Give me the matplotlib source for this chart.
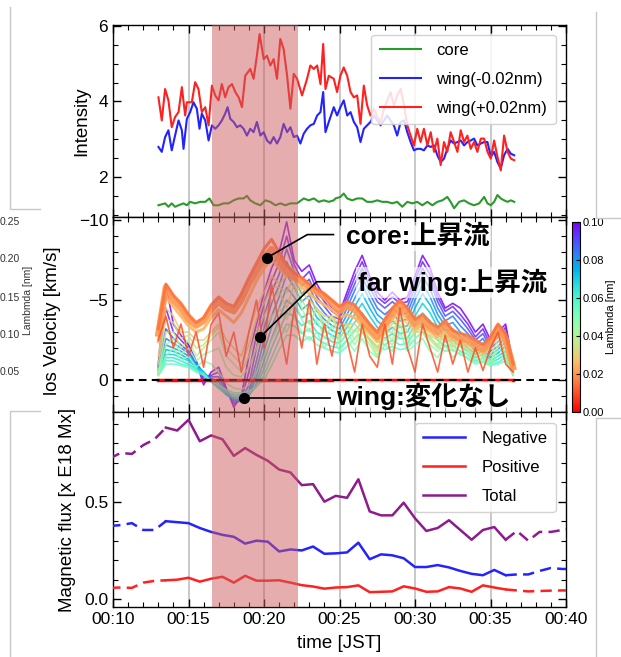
import numpy as np
import matplotlib
matplotlib.use('Agg')
import matplotlib.pyplot as plt
import matplotlib.colors as mcolors
import matplotlib.cm as cm
from matplotlib.ticker import MultipleLocator, FixedLocator, FuncFormatter
from matplotlib.lines import Line2D

plt.rcParams['font.family'] = ['Liberation Sans', 'DejaVu Sans']
plt.rcParams['axes.unicode_minus'] = True

# ---------------- data: intensity (top panel), time in minutes after 00:00 JST
t_core = [13.01, 13.45, 13.67, 13.89, 14.11, 14.34, 14.67, 14.89, 15.11, 15.44, 15.77, 16.11, 16.39,
          16.66, 16.99, 17.32, 17.65, 17.99, 18.32, 18.65, 18.87, 19.09, 19.42, 19.76, 20.09, 20.42,
          20.75, 21.08, 21.42, 21.75, 22.19, 22.63, 22.96, 23.30, 23.63, 23.96, 24.29, 24.62, 24.73,
          25.06, 25.28, 25.51, 25.84, 26.17, 26.50, 26.83, 27.17, 27.50, 27.83, 28.16, 28.49, 28.82,
          29.16, 29.49, 29.82, 30.15, 30.48, 30.82, 31.15, 31.48, 31.81, 32.14, 32.36, 32.59, 32.92,
          33.25, 33.58, 33.91, 34.25, 34.58, 34.80, 35.02, 35.24, 35.46, 35.68, 35.90, 36.13, 36.35, 36.57]
i_core = [1.26, 1.31, 1.22, 1.31, 1.22, 1.26, 1.31, 1.26, 1.35, 1.31, 1.35, 1.35, 1.44,
          1.26, 1.26, 1.31, 1.31, 1.39, 1.44, 1.44, 1.51, 1.39, 1.31, 1.26, 1.39, 1.35,
          1.26, 1.31, 1.26, 1.31, 1.31, 1.44, 1.39, 1.44, 1.35, 1.39, 1.35, 1.39, 1.44,
          1.48, 1.57, 1.44, 1.39, 1.44, 1.44, 1.35, 1.35, 1.39, 1.35, 1.35, 1.31, 1.35,
          1.22, 1.35, 1.31, 1.35, 1.26, 1.35, 1.26, 1.35, 1.39, 1.48, 1.35, 1.18, 1.35,
          1.39, 1.31, 1.26, 1.31, 1.48, 1.31, 1.26, 1.35, 1.53, 1.44, 1.39, 1.35, 1.39, 1.35]

t_wing_minus = [13.01, 13.23, 13.45, 13.67, 13.89, 14.11, 14.34, 14.56, 14.67, 14.89, 15.11, 15.33, 15.55,
                15.73, 15.88, 16.11, 16.33, 16.55, 16.77, 16.99, 17.21, 17.43, 17.59, 17.77, 17.99, 18.21,
                18.43, 18.65, 18.87, 19.09, 19.31, 19.53, 19.76, 19.98, 20.20, 20.42, 20.64, 20.86, 21.08,
                21.30, 21.53, 21.75, 21.97, 22.19, 22.41, 22.63, 22.85, 23.07, 23.30, 23.52, 23.74, 23.92,
                24.07, 24.29, 24.62, 24.84, 25.06, 25.28, 25.51, 25.73, 25.95, 26.17, 26.39, 26.61, 26.83,
                27.05, 27.28, 27.72, 28.16, 28.60, 28.82, 29.05, 29.27, 29.49, 29.71, 29.93, 30.15, 30.37,
                30.59, 30.82, 31.04, 31.26, 31.48, 31.70, 31.92, 32.14, 32.36, 32.59, 32.81, 33.03, 33.25,
                33.47, 33.69, 33.91, 34.13, 34.36, 34.58, 34.80, 35.02, 35.24, 35.46, 35.68, 35.90, 36.13,
                36.35, 36.57]
i_wing_minus = [2.80, 2.67, 3.06, 3.24, 2.71, 3.10, 3.50, 3.24, 2.75, 3.54, 3.72, 3.98, 3.81,
                3.28, 3.68, 3.50, 2.97, 3.37, 3.28, 3.37, 3.50, 3.68, 3.85, 3.54, 3.46, 3.32,
                3.37, 3.28, 3.10, 3.28, 3.19, 3.46, 3.10, 3.19, 2.97, 2.89, 3.06, 2.89, 3.06,
                3.41, 3.19, 3.32, 3.06, 3.10, 2.89, 3.15, 3.28, 3.37, 3.41, 3.63, 3.72, 4.25,
                3.19, 3.46, 3.85, 3.63, 3.85, 4.03, 3.63, 3.72, 3.46, 3.32, 2.93, 3.28, 3.37,
                3.46, 3.63, 3.37, 3.63, 3.37, 3.10, 3.46, 3.50, 3.19, 2.93, 2.71, 2.75, 2.75,
                2.71, 2.84, 2.80, 2.84, 2.58, 2.40, 2.49, 2.75, 2.97, 2.89, 2.93, 2.97, 2.84,
                2.93, 2.97, 3.02, 2.84, 2.89, 2.93, 2.93, 2.54, 2.67, 2.40, 2.23, 2.58, 2.75,
                2.62, 2.58]

t_wing_plus = [13.01, 13.23, 13.45, 13.67, 13.89, 14.11, 14.34, 14.56, 14.78, 14.89, 15.22, 15.44, 15.66,
               15.88, 16.11, 16.33, 16.55, 16.77, 16.99, 17.21, 17.43, 17.65, 17.88, 18.10, 18.32, 18.54,
               18.76, 19.09, 19.31, 19.53, 19.71, 19.98, 20.20, 20.42, 20.64, 20.86, 21.08, 21.30, 21.53,
               21.75, 21.97, 22.19, 22.52, 22.85, 23.07, 23.30, 23.52, 23.74, 23.92, 24.07, 24.29, 24.62,
               24.84, 25.06, 25.28, 25.51, 25.73, 25.95, 26.17, 26.39, 26.61, 26.83, 27.05, 27.28, 27.50,
               27.72, 27.94, 28.38, 28.60, 28.82, 29.05, 29.27, 29.49, 29.71, 29.93, 30.15, 30.37, 30.59,
               30.82, 31.04, 31.26, 31.48, 31.70, 31.92, 32.14, 32.36, 32.59, 32.81, 33.03, 33.25, 33.47,
               33.69, 33.91, 34.13, 34.36, 34.58, 34.80, 35.02, 35.24, 35.46, 35.68, 35.90, 36.13, 36.35,
               36.57]
i_wing_plus = [4.11, 3.50, 4.33, 4.03, 3.32, 3.59, 3.72, 4.38, 3.63, 3.98, 3.98, 4.51, 4.33,
               3.72, 3.85, 3.37, 4.42, 4.16, 4.03, 4.46, 4.11, 4.38, 4.46, 4.25, 4.11, 3.85,
               4.68, 4.86, 4.60, 5.21, 5.78, 5.12, 5.21, 4.95, 5.12, 4.60, 5.65, 5.39, 4.68,
               3.81, 4.73, 4.60, 4.16, 4.60, 4.95, 4.86, 4.95, 4.46, 5.52, 4.33, 4.68, 4.60,
               4.25, 4.68, 4.90, 4.68, 4.25, 4.11, 4.16, 3.41, 4.42, 3.90, 3.63, 3.80, 3.60,
               3.46, 3.80, 4.25, 3.90, 4.16, 4.33, 3.90, 3.37, 3.10, 2.84, 3.28, 2.93, 3.28,
               2.84, 3.19, 2.67, 3.02, 2.32, 2.93, 2.67, 3.19, 2.93, 2.67, 3.24, 2.93, 3.10,
               2.75, 2.93, 2.67, 3.02, 3.02, 2.67, 2.49, 2.97, 2.54, 2.18, 3.10, 2.67, 2.49,
               2.45]

# ---------------- data: line-of-sight velocity (middle panel), one series per Lambda [nm]
# samples every 30 s from 00:13:00 to 00:36:30 (each row below = 4 minutes)
t_vel = np.arange(13.0, 36.51, 0.5)
v_0100 = [-1.0, -6.0, -3.5, -2.8, -2.2, -1.2, 0.3, -0.5,
          -0.8, 0.5, 1.7, 1.0, -1.5, -3.5, -5.5, -7.0,
          -8.0, -9.9, -7.5, -6.8, -7.2, -6.0, -5.2, -4.5,
          -4.2, -5.5, -6.8, -7.8, -6.5, -5.5, -5.0, -5.5,
          -5.0, -5.2, -6.5, -7.8, -7.0, -5.5, -4.5, -4.8,
          -4.5, -3.8, -3.0, -3.5, -2.5, -3.0, -3.5, -1.0]
v_0095 = [-0.9, -4.5, -3.0, -2.5, -2.0, -1.2, 0.0, -0.3,
          -0.5, 0.6, 1.5, 1.2, -0.5, -2.8, -4.8, -6.2,
          -7.3, -9.0, -7.2, -6.3, -6.8, -5.6, -4.9, -4.3,
          -4.0, -5.2, -6.4, -7.4, -6.2, -5.2, -4.8, -5.2,
          -4.8, -4.9, -6.2, -7.4, -6.6, -5.2, -4.3, -4.6,
          -4.1, -3.5, -2.7, -3.2, -2.2, -2.7, -3.3, -0.9]
v_0090 = [-0.8, -3.2, -2.6, -2.2, -1.8, -1.1, -0.2, -0.2,
          -0.2, 0.7, 1.4, 1.3, 0.3, -2.0, -4.0, -5.5,
          -6.6, -8.2, -6.8, -5.9, -6.3, -5.2, -4.6, -4.0,
          -3.8, -4.9, -6.0, -7.0, -5.8, -4.9, -4.5, -4.9,
          -4.5, -4.6, -5.8, -7.0, -6.2, -4.9, -4.0, -4.3,
          -3.8, -3.2, -2.5, -2.9, -2.0, -2.4, -3.0, -0.8]
v_0085 = [-0.7, -2.6, -2.3, -2.0, -1.7, -1.1, -0.4, -0.1,
          0.1, 0.8, 1.3, 1.3, 0.7, -1.2, -3.2, -4.8,
          -5.9, -7.4, -6.3, -5.4, -5.8, -4.8, -4.2, -3.7,
          -3.5, -4.5, -5.6, -6.5, -5.4, -4.5, -4.1, -4.5,
          -4.1, -4.2, -5.4, -6.5, -5.7, -4.5, -3.7, -4.0,
          -3.4, -2.9, -2.2, -2.6, -1.8, -2.1, -2.7, -0.7]
v_0080 = [-0.6, -2.2, -2.0, -1.8, -1.5, -1.0, -0.5, 0.0,
          0.3, 0.9, 1.2, 1.3, 0.9, -0.6, -2.5, -4.0,
          -5.2, -6.6, -5.8, -4.9, -5.3, -4.3, -3.8, -3.4,
          -3.2, -4.1, -5.1, -6.0, -5.0, -4.1, -3.7, -4.1,
          -3.7, -3.8, -5.0, -6.0, -5.2, -4.1, -3.4, -3.6,
          -3.0, -2.6, -2.0, -2.3, -1.6, -1.9, -2.4, -0.6]
v_0075 = [-0.5, -1.9, -1.8, -1.6, -1.3, -0.9, -0.5, 0.1,
          0.4, 0.9, 1.2, 1.2, 1.0, -0.2, -1.8, -3.3,
          -4.5, -5.8, -5.2, -4.4, -4.8, -3.9, -3.5, -3.1,
          -2.9, -3.7, -4.6, -5.4, -4.5, -3.7, -3.3, -3.7,
          -3.3, -3.4, -4.5, -5.4, -4.7, -3.7, -3.1, -3.2,
          -2.7, -2.3, -1.8, -2.0, -1.4, -1.7, -2.1, -0.5]
v_0070 = [-0.4, -1.6, -1.6, -1.4, -1.2, -0.8, -0.5, 0.1,
          0.5, 0.9, 1.1, 1.1, 1.0, 0.2, -1.2, -2.6,
          -3.8, -5.0, -4.6, -3.9, -4.2, -3.5, -3.1, -2.8,
          -2.6, -3.3, -4.1, -4.8, -4.0, -3.3, -2.9, -3.3,
          -2.9, -3.0, -4.0, -4.8, -4.2, -3.3, -2.7, -2.8,
          -2.4, -2.0, -1.6, -1.8, -1.2, -1.5, -1.8, -0.4]
v_0065 = [-0.4, -1.4, -1.4, -1.2, -1.0, -0.7, -0.4, 0.1,
          0.5, 0.8, 1.0, 1.0, 0.9, 0.4, -0.7, -2.0,
          -3.1, -4.2, -4.0, -3.4, -3.7, -3.0, -2.7, -2.4,
          -2.3, -2.9, -3.6, -4.2, -3.5, -2.9, -2.6, -2.9,
          -2.6, -2.6, -3.5, -4.2, -3.7, -2.9, -2.4, -2.5,
          -2.1, -1.8, -1.4, -1.6, -1.1, -1.3, -1.6, -0.4]
v_0060 = [-0.3, -1.2, -1.2, -1.0, -0.9, -0.6, -0.4, 0.1,
          0.4, 0.7, 0.9, 0.9, 0.8, 0.4, -0.3, -1.4,
          -2.5, -3.5, -3.4, -2.9, -3.2, -2.6, -2.3, -2.1,
          -2.0, -2.5, -3.1, -3.6, -3.0, -2.5, -2.2, -2.5,
          -2.2, -2.3, -3.0, -3.6, -3.2, -2.5, -2.1, -2.2,
          -1.8, -1.6, -1.2, -1.4, -1.0, -1.1, -1.4, -0.3]
v_0055 = [-0.3, -1.0, -1.0, -0.9, -0.8, -0.5, -0.3, 0.1,
          0.3, 0.6, 0.8, 0.8, 0.7, 0.4, 0.0, -0.9,
          -1.9, -2.8, -2.8, -2.4, -2.7, -2.2, -2.0, -1.8,
          -1.7, -2.1, -2.6, -3.0, -2.6, -2.1, -1.9, -2.1,
          -1.9, -2.0, -2.6, -3.0, -2.7, -2.1, -1.8, -1.9,
          -1.6, -1.4, -1.1, -1.2, -0.9, -1.0, -1.2, -0.3]
v_0050 = [-0.3, -1.5, -2.0, -1.2, -1.5, -0.8, -1.2, -1.0,
          -0.5, 0.2, 0.5, 0.6, 0.3, -0.5, -1.5, -2.5,
          -3.5, -3.0, -4.0, -3.0, -2.5, -3.0, -2.0, -2.8,
          -1.8, -2.5, -1.8, -2.6, -1.8, -1.4, -2.2, -1.8,
          -3.0, -1.8, -2.2, -2.6, -1.8, -1.4, -2.2, -1.4,
          -1.8, -1.3, -1.0, -1.1, -0.9, -1.6, -1.3, -0.3]
v_0045 = [-0.4, -2.2, -2.6, -1.6, -2.0, -1.2, -1.6, -1.8,
          -2.0, -0.8, -0.3, -0.2, -0.8, -2.0, -3.0, -4.0,
          -4.5, -3.8, -5.0, -3.8, -3.0, -3.8, -2.6, -3.4,
          -2.2, -3.0, -2.2, -3.0, -2.2, -1.5, -2.6, -2.2,
          -3.5, -2.2, -2.6, -3.0, -2.2, -1.8, -2.6, -1.8,
          -2.2, -1.6, -1.3, -1.3, -1.1, -1.9, -1.6, -0.4]
v_0040 = [-0.5, -3.0, -3.0, -2.0, -2.5, -1.5, -2.0, -2.5,
          -3.0, -1.5, -1.0, -0.5, -1.5, -3.0, -4.0, -5.0,
          -5.5, -4.5, -6.0, -4.5, -3.5, -4.5, -3.0, -4.0,
          -2.5, -3.5, -2.5, -3.5, -2.5, -1.5, -3.0, -2.5,
          -4.0, -2.5, -3.0, -3.5, -2.5, -2.0, -3.0, -2.0,
          -2.5, -1.8, -1.5, -1.5, -1.2, -2.2, -1.8, -0.4]
v_0035 = [-1.0, -3.8, -3.6, -2.6, -2.8, -2.0, -2.2, -2.8,
          -3.3, -2.0, -1.5, -1.0, -2.2, -3.8, -4.8, -5.8,
          -5.8, -5.5, -6.5, -5.0, -4.2, -4.5, -3.5, -4.0,
          -3.0, -3.5, -3.0, -3.2, -2.5, -1.8, -3.0, -3.0,
          -4.0, -3.0, -3.0, -3.2, -2.6, -2.2, -2.9, -2.1,
          -2.3, -1.9, -1.6, -1.5, -1.6, -2.5, -2.0, -0.5]
v_0030 = [-1.5, -4.5, -4.0, -3.0, -3.0, -2.5, -2.5, -3.0,
          -3.5, -2.5, -2.0, -1.5, -3.0, -4.5, -5.5, -6.5,
          -6.0, -6.5, -7.0, -5.5, -5.0, -4.5, -4.0, -4.0,
          -3.5, -3.5, -3.5, -3.0, -2.5, -2.0, -3.0, -3.5,
          -4.0, -3.5, -3.0, -3.0, -2.8, -2.5, -2.8, -2.3,
          -2.2, -2.0, -1.8, -1.5, -2.0, -2.8, -2.2, -0.6]
v_0025 = [-2.4, -5.2, -4.6, -4.0, -3.4, -3.0, -3.2, -3.9,
          -4.4, -4.0, -3.6, -4.2, -5.2, -6.2, -7.0, -7.6,
          -7.0, -6.5, -6.6, -5.8, -5.4, -5.0, -4.7, -4.4,
          -3.9, -4.1, -3.9, -3.4, -2.9, -2.4, -3.2, -3.8,
          -4.3, -3.8, -3.2, -3.4, -3.0, -2.7, -3.0, -2.5,
          -2.4, -2.2, -2.0, -1.7, -2.2, -3.0, -2.4, -0.7]
v_0020 = [-2.9, -5.8, -5.0, -4.5, -3.8, -3.4, -3.7, -4.4,
          -4.9, -4.5, -4.3, -5.0, -6.0, -6.8, -7.6, -8.2,
          -7.5, -6.8, -6.4, -6.2, -5.8, -5.5, -5.2, -4.8,
          -4.3, -4.6, -4.4, -3.8, -3.2, -2.7, -3.5, -4.2,
          -4.7, -4.2, -3.5, -3.8, -3.3, -3.0, -3.4, -2.8,
          -2.6, -2.5, -2.2, -1.9, -2.4, -3.3, -2.6, -0.8]
v_0015 = [-3.2, -6.0, -5.3, -4.8, -4.1, -3.6, -3.9, -4.7,
          -5.2, -4.8, -4.6, -5.4, -6.4, -7.3, -8.2, -8.8,
          -8.0, -7.2, -6.7, -6.4, -6.0, -5.7, -5.4, -5.0,
          -4.6, -4.9, -4.7, -4.1, -3.5, -3.0, -3.8, -4.5,
          -5.0, -4.5, -3.8, -4.1, -3.6, -3.3, -3.7, -3.1,
          -2.9, -2.8, -2.5, -2.2, -2.7, -3.5, -2.9, -1.0]
v_0010 = [-2.5, -4.0, -2.0, -3.5, -1.5, -3.0, -0.8, -3.5,
          -4.2, -1.5, -3.0, -0.5, -3.0, -5.0, -2.0, -6.0,
          -3.5, -1.0, -4.5, -2.0, -5.0, -1.0, -3.5, -1.5,
          -4.0, -2.5, -0.5, -3.5, -1.5, -0.8, -3.5, -1.0,
          -4.5, -2.0, -0.5, -3.5, -2.0, -0.5, -2.8, -1.0,
          -2.5, -0.5, -2.0, -0.6, -2.0, -3.0, -1.0, -0.5]
v_0000 = [0.0] * 48

lambdas = [0.100, 0.095, 0.090, 0.085, 0.080, 0.075, 0.070, 0.065, 0.060, 0.055,
           0.050, 0.045, 0.040, 0.035, 0.030, 0.025, 0.020, 0.015, 0.010]
vel_series = [v_0100, v_0095, v_0090, v_0085, v_0080, v_0075, v_0070, v_0065, v_0060, v_0055,
              v_0050, v_0045, v_0040, v_0035, v_0030, v_0025, v_0020, v_0015, v_0010]

# ---------------- data: magnetic flux (bottom panel)
t_flux = np.arange(9.75, 40.51, 0.75)
flux_negative = [0.375, 0.38, 0.39, 0.355, 0.355, 0.40, 0.395, 0.39, 0.365, 0.345, 0.33, 0.32, 0.285, 0.30,
                 0.295, 0.245, 0.255, 0.25, 0.27, 0.233, 0.235, 0.24, 0.29, 0.205, 0.23, 0.225, 0.21, 0.165,
                 0.165, 0.175, 0.163, 0.145, 0.13, 0.123, 0.15, 0.123, 0.127, 0.127, 0.145, 0.16, 0.155, 0.155]
flux_positive = [0.058, 0.06, 0.058, 0.085, 0.094, 0.097, 0.10, 0.11, 0.09, 0.105, 0.115, 0.085, 0.12, 0.095,
                 0.095, 0.097, 0.085, 0.072, 0.065, 0.054, 0.06, 0.062, 0.071, 0.036, 0.038, 0.04, 0.066, 0.055,
                 0.038, 0.04, 0.062, 0.055, 0.038, 0.071, 0.06, 0.05, 0.045, 0.04, 0.042, 0.044, 0.045, 0.045]
flux_total = [0.72, 0.75, 0.745, 0.79, 0.82, 0.88, 0.865, 0.92, 0.81, 0.84, 0.82, 0.735, 0.775, 0.74,
              0.71, 0.665, 0.65, 0.585, 0.59, 0.50, 0.53, 0.52, 0.615, 0.45, 0.43, 0.43, 0.495, 0.415,
              0.35, 0.365, 0.405, 0.355, 0.305, 0.355, 0.37, 0.305, 0.35, 0.30, 0.345, 0.345, 0.355, 0.365]
obs_start, obs_end = 13.5, 36.0
flare_start, flare_end = 16.55, 22.26
x_ticks = [10, 15, 20, 25, 30, 35, 40]

# ---------------- figure
W, H = 621, 657
fig = plt.figure(figsize=(W / 100, H / 100), dpi=100)


def px_rect(x0, y0, x1, y1):
    return [x0 / W, 1 - y1 / H, (x1 - x0) / W, (y1 - y0) / H]


ax1 = fig.add_axes(px_rect(113, 25, 566, 217))
ax2 = fig.add_axes(px_rect(113, 217, 566, 412))
ax3 = fig.add_axes(px_rect(113, 412, 566, 607))
cax = fig.add_axes(px_rect(572, 222, 580, 412))

for ax in (ax1, ax2, ax3):
    ax.set_xlim(10, 40)
    for t in x_ticks[1:-1]:
        ax.axvline(t, color='#c4c4c4', lw=1.3, zorder=0.5)
    ax.axvspan(flare_start, flare_end, facecolor='indianred', alpha=0.5, lw=0, zorder=5)
    ax.xaxis.set_major_locator(FixedLocator(x_ticks))
    ax.xaxis.set_minor_locator(MultipleLocator(1))
    ax.tick_params(which='both', direction='in', top=True, right=True, labelsize=12.5)
    ax.tick_params(which='major', length=6, width=1)
    ax.tick_params(which='minor', length=3.5, width=0.8)
    for s in ax.spines.values():
        s.set_linewidth(1.0)

leg_kw = dict(loc='upper right', borderaxespad=0, fontsize=12, handlelength=2.5,
              labelspacing=0.82, borderpad=0.5, fancybox=True, framealpha=0.85, edgecolor='#cccccc')

# top panel
ax1.plot(t_core, i_core, color='#2a9a2a', lw=1.5, label='core', zorder=3)
ax1.plot(t_wing_minus, i_wing_minus, color='#2323ff', lw=1.5, label='wing(-0.02nm)', zorder=3)
ax1.plot(t_wing_plus, i_wing_plus, color='#ff2020', lw=1.5, label='wing(+0.02nm)', zorder=3)
ax1.set_ylim(0.95, 6.02)
ax1.yaxis.set_major_locator(FixedLocator([2, 4, 6]))
ax1.yaxis.set_minor_locator(MultipleLocator(0.5))
ax1.set_xticklabels([])
ax1.set_ylabel('Intensity', fontsize=13.5)
ax1.yaxis.set_label_coords(-0.05, 0.5)
leg1 = ax1.legend(bbox_to_anchor=(0.977, 0.948), handletextpad=0.9, **leg_kw)
leg1.set_zorder(20)

# middle panel
cmap = plt.get_cmap('rainbow_r')
norm = mcolors.Normalize(0.0, 0.10)
for lam, v in zip(lambdas, vel_series):
    if abs(lam - 0.02) < 1e-9:
        lw, a = 4.5, 0.9
    elif abs(lam - 0.015) < 1e-9 or abs(lam - 0.025) < 1e-9:
        lw, a = 2.2, 0.9
    else:
        lw, a = 1.2, 0.85
    ax2.plot(t_vel, v, color=cmap(norm(lam)), lw=lw, alpha=a, zorder=2)
ax2.plot(t_vel, v_0000, color=cmap(norm(0.0)), lw=2.5, zorder=3)
ax2.axhline(0, color='k', lw=1.5, ls=(0, (3.7, 2.5)), zorder=4)
ax2.set_ylim(2.0, -10.2)
ax2.yaxis.set_major_locator(FixedLocator([-10, -5, 0]))
ax2.yaxis.set_minor_locator(MultipleLocator(1))
ax2.set_xticklabels([])
ax2.set_ylabel('los Velocity [km/s]', fontsize=13.5)
ax2.yaxis.set_label_coords(-0.115, 0.47)

ann_font = dict(family=['Liberation Sans', 'Noto Sans CJK JP'], fontsize=19, fontweight='bold',
                va='center', ha='left', zorder=12)
ann_box = dict(facecolor='white', alpha=0.65, edgecolor='none', pad=1.5)
annotations = [
    ((20.2, -7.65), [(22.87, -9.1), (24.6, -9.1)], (25.4, -9.0), 'core:上昇流'),
    ((19.75, -2.7), [(23.5, -6.15), (25.26, -6.15)], (26.2, -6.1), 'far wing:上昇流'),
    ((18.65, 1.1), [(24.4, 1.1)], (24.75, 1.05), 'wing:変化なし'),
]
for (px_, py_), path, (tx, ty), label in annotations:
    xs = [px_] + [p[0] for p in path]
    ys = [py_] + [p[1] for p in path]
    ax2.plot(xs, ys, color='k', lw=1.2, zorder=11)
    ax2.plot([px_], [py_], 'o', color='k', ms=7, zorder=11)
    ax2.text(tx, ty, label, bbox=ann_box, **ann_font)

sm = cm.ScalarMappable(norm=norm, cmap=cmap)
cb = fig.colorbar(sm, cax=cax, ticks=[0.0, 0.02, 0.04, 0.06, 0.08, 0.10])
cb.ax.set_yticklabels(['0.00', '0.02', '0.04', '0.06', '0.08', '0.10'])
cb.ax.tick_params(labelsize=8, length=3, direction='in', pad=2)
cb.outline.set_linewidth(0.8)
cb.set_label('Lambmda [nm]', fontsize=8, labelpad=1)

# bottom panel
solid = (t_flux >= obs_start - 0.01) & (t_flux <= obs_end + 0.01)
pre = t_flux <= obs_start + 0.01
post = t_flux >= obs_end - 0.01
dash = (0, (4.5, 2.5))
for vals, col, lab in ((flux_negative, '#2323ff', 'Negative'),
                       (flux_positive, '#ff2020', 'Positive'),
                       (flux_total, '#8e1b8e', 'Total')):
    vals = np.asarray(vals)
    ax3.plot(t_flux[solid], vals[solid], color=col, lw=1.8, label=lab, zorder=3)
    ax3.plot(t_flux[pre], vals[pre], color=col, lw=1.8, ls=dash, zorder=3)
    ax3.plot(t_flux[post], vals[post], color=col, lw=1.8, ls=dash, zorder=3)
ax3.set_ylim(-0.04, 0.96)
ax3.yaxis.set_major_locator(FixedLocator([0.0, 0.5]))
ax3.yaxis.set_minor_locator(MultipleLocator(0.1))
ax3.yaxis.set_major_formatter(FuncFormatter(lambda v, _: f'{v:.1f}'))
ax3.xaxis.set_major_formatter(FuncFormatter(lambda v, _: f'00:{int(round(v)):02d}'))
ax3.set_ylabel('Magnetic flux [x E18 Mx]', fontsize=13.5)
ax3.yaxis.set_label_coords(-0.082, 0.5)
ax3.set_xlabel('time [JST]', fontsize=13.5, labelpad=6)
leg3 = ax3.legend(bbox_to_anchor=(0.977, 0.944), handletextpad=1.0, **leg_kw)
leg3.set_zorder(20)

# neighbouring panel remnants (cropped figure edges)
frame_col = '#c8c8c8'
for xs, ys in (([10, 10, 40], [7, 209, 209]),
               ([40, 10, 10], [411, 411, 657]),
               ([596, 596, 621], [12, 218, 218]),
               ([621, 596, 596], [418, 418, 657])):
    fig.add_artist(Line2D([x / W for x in xs], [1 - y / H for y in ys], color=frame_col, lw=1.0))
for lab, yy in (('0.25', 222), ('0.20', 259), ('0.15', 298), ('0.10', 335), ('0.05', 372)):
    fig.text(20 / W, 1 - yy / H, lab, ha='right', va='center', fontsize=7.5, color='#333333')
fig.text(28 / W, 1 - 300 / H, 'Lambmda [nm]', rotation=90, ha='center', va='center', fontsize=7.5,
         color='#333333')

fig.savefig('out.png', dpi=100)
